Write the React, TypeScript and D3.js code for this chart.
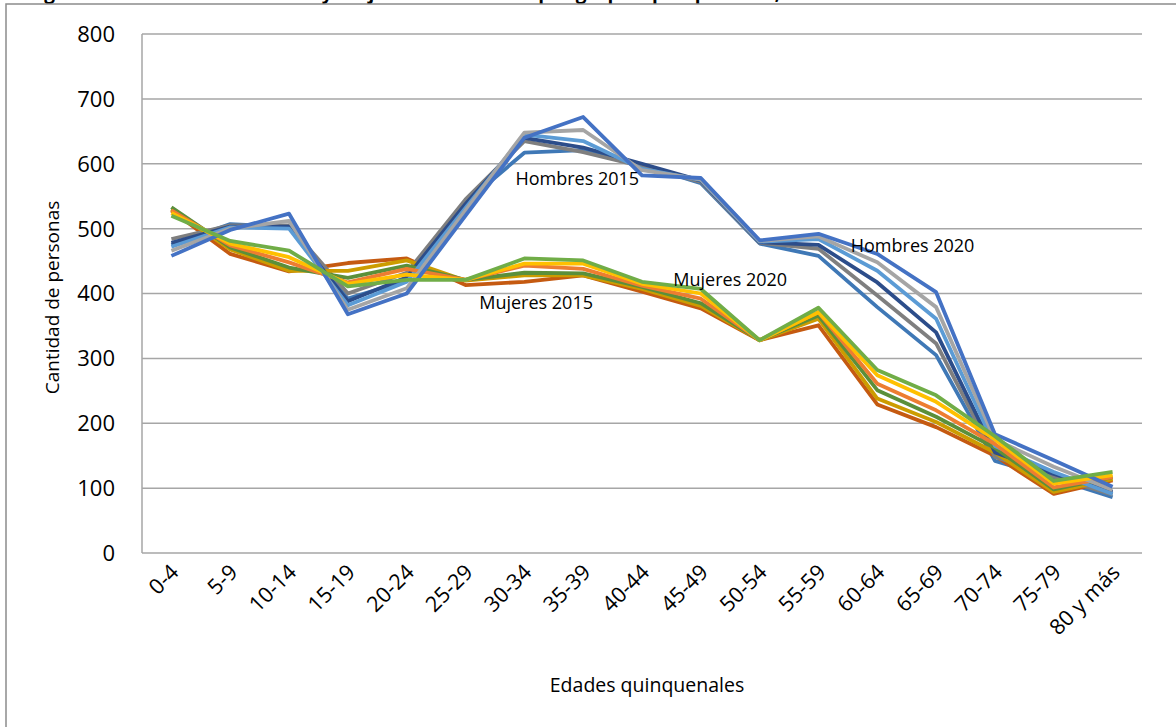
import React, { useEffect, useRef } from "react";
import * as d3 from "d3";

// age groups (x axis)
const ageGroups = ["0-4", "5-9", "10-14", "15-19", "20-24", "25-29", "30-34", "35-39", "40-44",
  "45-49", "50-54", "55-59", "60-64", "65-69", "70-74", "75-79", "80 y más"];

const yTicks = [0, 100, 200, 300, 400, 500, 600, 700, 800];

// men, one array per year
const hombres2015 = [475, 507, 502, 392, 420, 540, 617, 621, 598, 570, 477, 458, 379, 305, 142, 115, 86];
const hombres2016 = [484, 505, 505, 400, 432, 545, 635, 618, 596, 572, 478, 469, 397, 323, 148, 118, 90];
const hombres2017 = [478, 503, 503, 388, 425, 538, 640, 625, 600, 574, 479, 475, 417, 340, 155, 122, 94];
const hombres2018 = [472, 502, 500, 382, 418, 532, 645, 635, 592, 575, 480, 484, 435, 361, 165, 125, 91];
const hombres2019 = [466, 500, 512, 375, 408, 528, 648, 652, 590, 576, 481, 488, 448, 379, 175, 133, 97];
const hombres2020 = [458, 498, 523, 368, 400, 520, 640, 672, 582, 578, 482, 492, 461, 402, 183, 143, 102];

// women, one array per year
const mujeres2015 = [528, 461, 434, 447, 454, 413, 418, 428, 403, 377, 328, 351, 229, 194, 150, 91, 112];
const mujeres2016 = [530, 468, 435, 435, 451, 420, 428, 428, 407, 381, 328, 361, 238, 202, 155, 94, 114];
const mujeres2017 = [533, 471, 440, 424, 443, 421, 432, 431, 410, 385, 328, 366, 251, 210, 162, 98, 117];
const mujeres2018 = [528, 474, 448, 417, 438, 421, 443, 438, 412, 392, 328, 371, 261, 220, 168, 101, 117];
const mujeres2019 = [524, 477, 456, 415, 429, 421, 446, 446, 415, 400, 328, 371, 274, 233, 175, 107, 120];
const mujeres2020 = [520, 481, 466, 411, 421, 421, 454, 451, 418, 407, 328, 378, 282, 243, 180, 111, 125];

// drawing order: by year, men then women
const seriesList = [
  { name: "Hombres 2015", values: hombres2015, color: "#3f78b6" },
  { name: "Mujeres 2015", values: mujeres2015, color: "#c55a11" },
  { name: "Hombres 2016", values: hombres2016, color: "#7f7f7f" },
  { name: "Mujeres 2016", values: mujeres2016, color: "#cc9c00" },
  { name: "Hombres 2017", values: hombres2017, color: "#2c4d8a" },
  { name: "Mujeres 2017", values: mujeres2017, color: "#5b8f3a" },
  { name: "Hombres 2018", values: hombres2018, color: "#5b9bd5" },
  { name: "Mujeres 2018", values: mujeres2018, color: "#ed7d31" },
  { name: "Hombres 2019", values: hombres2019, color: "#a5a5a5" },
  { name: "Mujeres 2019", values: mujeres2019, color: "#ffc000" },
  { name: "Hombres 2020", values: hombres2020, color: "#4472c4" },
  { name: "Mujeres 2020", values: mujeres2020, color: "#70ad47" },
];

// text labels placed on the chart: [label, category index, value]
const annotations: [string, number, number][] = [
  ["Hombres 2015", 6.9, 577],
  ["Mujeres 2015", 6.2, 386],
  ["Mujeres 2020", 9.5, 422],
  ["Hombres 2020", 12.6, 473],
];

const W = 1176, H = 727;
const FONT = "'Open Sans', 'DejaVu Sans', sans-serif";

export default function App() {
  const ref = useRef<SVGSVGElement>(null);

  useEffect(() => {
    const svg = d3.select(ref.current);
    svg.selectAll("*").remove();

    const margin = { top: 34, right: 34, bottom: 174, left: 142 };
    const w = W - margin.left - margin.right,
      h = H - margin.top - margin.bottom;

    // outer chart frame and the cut-off caption above it
    svg.append("text")
      .attr("x", 28).attr("y", -1)
      .attr("font-family", FONT).attr("font-size", 19).attr("font-weight", "bold")
      .attr("fill", "#000")
      .text("Figura 3. Cantidad de hombres y mujeres de cada año por grupos quinquenales, años 2015 al 2020");
    svg.append("rect")
      .attr("x", 6).attr("y", 4).attr("width", W + 10).attr("height", H + 10)
      .attr("fill", "none").attr("stroke", "#8c8c8c").attr("stroke-width", 1.5);

    const g = svg.append("g").attr("transform", `translate(${margin.left},${margin.top})`);

    const x = d3.scaleBand().domain(ageGroups).range([0, w]);
    const y = d3.scaleLinear().domain([0, 800]).range([h, 0]);
    const cx = (i: number) => (x(ageGroups[Math.floor(i)]) as number) + x.bandwidth() * (0.5 + i - Math.floor(i));

    // gridlines
    g.selectAll(".grid").data(yTicks).join("line").attr("class", "grid")
      .attr("x1", 0).attr("x2", w)
      .attr("y1", d => y(d)).attr("y2", d => y(d))
      .attr("stroke", "#a6a6a6").attr("stroke-width", 1.5);
    g.append("line").attr("x1", 0).attr("x2", 0).attr("y1", 0).attr("y2", h)
      .attr("stroke", "#a6a6a6").attr("stroke-width", 1.5);

    // y tick labels
    g.selectAll(".ytick").data(yTicks).join("text").attr("class", "ytick")
      .attr("x", -27).attr("y", d => y(d)).attr("dy", "0.36em")
      .attr("text-anchor", "end")
      .attr("font-family", FONT).attr("font-size", 22).attr("fill", "#000")
      .text(d => d);

    // x tick labels rotated
    g.selectAll(".xtick").data(ageGroups).join("text").attr("class", "xtick")
      .attr("transform", d => `translate(${(x(d) as number) + x.bandwidth() / 2 - 2},${h + 10}) rotate(-45)`)
      .attr("text-anchor", "end")
      .attr("dy", "0.7em")
      .attr("font-family", FONT).attr("font-size", 21.5).attr("fill", "#000")
      .text(d => d);

    // axis titles
    g.append("text")
      .attr("transform", `translate(${-83},${h / 2 + 4}) rotate(-90)`)
      .attr("text-anchor", "middle")
      .attr("font-family", FONT).attr("font-size", 19).attr("fill", "#000")
      .text("Cantidad de personas");
    g.append("text")
      .attr("x", w / 2 + 5).attr("y", h + 139)
      .attr("text-anchor", "middle")
      .attr("font-family", FONT).attr("font-size", 19.5).attr("fill", "#000")
      .text("Edades quinquenales");

    // lines
    const line = d3.line<number>()
      .x((d, i) => (x(ageGroups[i]) as number) + x.bandwidth() / 2)
      .y(d => y(d));
    g.selectAll(".serie").data(seriesList).join("path").attr("class", "serie")
      .attr("d", d => line(d.values))
      .attr("fill", "none")
      .attr("stroke", d => d.color)
      .attr("stroke-width", 3.8)
      .attr("stroke-linejoin", "round");

    // labels on the chart
    g.selectAll(".anno").data(annotations).join("text").attr("class", "anno")
      .attr("x", d => cx(d[1])).attr("y", d => y(d[2]))
      .attr("text-anchor", "middle").attr("dy", "0.35em")
      .attr("font-family", FONT).attr("font-size", 18).attr("fill", "#000")
      .text(d => d[0]);
  }, []);

  return (
    <svg ref={ref} width={W} height={H}
      style={{ position: "absolute", left: 0, top: 0, background: "#fff" }} />
  );
}
